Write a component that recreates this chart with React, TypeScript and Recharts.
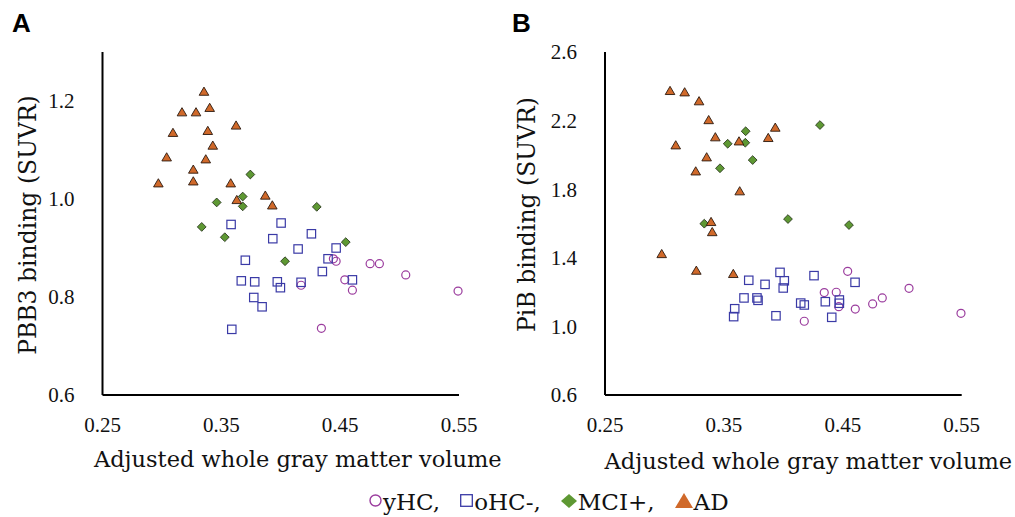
import { Label, Scatter, ScatterChart, XAxis, YAxis } from "recharts";

// ---- panel A: PBB3 binding vs adjusted GM volume ----
const yhcVolA = [0.4443, 0.4466, 0.4752, 0.483, 0.5052, 0.4539, 0.4171, 0.4603, 0.5492, 0.4342];
const yhcPbb3 = [0.878, 0.873, 0.868, 0.868, 0.845, 0.835, 0.824, 0.814, 0.812, 0.736];

const ohcVolA = [0.3582, 0.4003, 0.4258, 0.3933, 0.4146, 0.4466, 0.3702, 0.4398, 0.435, 0.3668, 0.3781, 0.3971, 0.3997, 0.4171, 0.4603, 0.3773, 0.3843, 0.3588];
const ohcPbb3 = [0.948, 0.951, 0.929, 0.919, 0.898, 0.9, 0.875, 0.878, 0.852, 0.833, 0.831, 0.831, 0.819, 0.83, 0.835, 0.799, 0.78, 0.734];

const mciVolA = [0.3744, 0.368, 0.3461, 0.368, 0.4303, 0.3335, 0.3529, 0.4547, 0.4036];
const mciPbb3 = [1.05, 1.005, 0.993, 0.985, 0.984, 0.943, 0.922, 0.912, 0.873];

const adVolA = [0.3354, 0.3169, 0.3287, 0.3402, 0.3624, 0.3093, 0.3386, 0.3428, 0.304, 0.3369, 0.3264, 0.297, 0.3264, 0.3579, 0.363, 0.387, 0.3929];
const adPbb3 = [1.219, 1.177, 1.177, 1.186, 1.15, 1.135, 1.139, 1.109, 1.085, 1.081, 1.06, 1.032, 1.036, 1.032, 0.998, 1.007, 0.987];

// ---- panel B: PiB binding vs adjusted GM volume ----
const yhcVolB = [0.4541, 0.4344, 0.4445, 0.5057, 0.4832, 0.4751, 0.4466, 0.4605, 0.4176, 0.5494];
const yhcPib = [1.321, 1.197, 1.199, 1.222, 1.166, 1.131, 1.115, 1.101, 1.03, 1.076];

const ohcVolB = [0.3972, 0.4258, 0.3709, 0.4008, 0.3846, 0.4603, 0.3999, 0.3669, 0.3778, 0.3787, 0.4146, 0.4176, 0.4353, 0.4471, 0.4471, 0.3591, 0.3582, 0.3938, 0.4407];
const ohcPib = [1.315, 1.296, 1.269, 1.266, 1.245, 1.257, 1.224, 1.166, 1.166, 1.152, 1.136, 1.125, 1.144, 1.154, 1.135, 1.103, 1.057, 1.062, 1.053];

const mciVolB = [0.4308, 0.3683, 0.3532, 0.368, 0.3742, 0.3467, 0.3335, 0.4039, 0.4552];
const mciPib = [2.174, 2.138, 2.065, 2.071, 1.97, 1.922, 1.599, 1.626, 1.591];

const adVolB = [0.3047, 0.317, 0.3291, 0.3372, 0.3932, 0.3428, 0.3095, 0.3627, 0.3873, 0.3355, 0.3263, 0.3633, 0.3392, 0.3402, 0.2977, 0.3268, 0.3579];
const adPib = [2.373, 2.365, 2.313, 2.203, 2.159, 2.103, 2.056, 2.079, 2.099, 1.986, 1.904, 1.788, 1.609, 1.55, 1.422, 1.325, 1.306];

const volTicks = [0.25, 0.35, 0.45, 0.55];
const pbb3Ticks = [0.6, 0.8, 1.0, 1.2];
const pibTicks = [0.6, 1.0, 1.4, 1.8, 2.2, 2.6];

const PURPLE = "#9b3d9e";
const BLUE = "#3a3aa6";
const GREEN = "#5e9833";
const ORANGE = "#d0692a";

const zip = (xs: number[], ys: number[]) => xs.map((x, i) => ({ x, y: ys[i] }));

const ring = (p: any) => <circle cx={p.cx} cy={p.cy} r={4} fill="none" stroke={PURPLE} strokeWidth={1.2} />;
const box = (p: any) => (
  <rect x={p.cx - 4.2} y={p.cy - 4.2} width={8.4} height={8.4} fill="none" stroke={BLUE} strokeWidth={1.2} />
);
const diamond = (p: any) => (
  <path
    d={`M${p.cx},${p.cy - 4.4}L${p.cx + 4.4},${p.cy}L${p.cx},${p.cy + 4.4}L${p.cx - 4.4},${p.cy}Z`}
    fill={GREEN}
    stroke="#1e2a14"
    strokeWidth={0.8}
  />
);
const tri = (p: any) => (
  <path
    d={`M${p.cx},${p.cy - 4.6}L${p.cx + 4.8},${p.cy + 3.6}L${p.cx - 4.8},${p.cy + 3.6}Z`}
    fill={ORANGE}
    stroke="#2a1a10"
    strokeWidth={0.9}
  />
);

const tickFont = { fill: "#111", fontSize: 21, fontFamily: "Liberation Serif" };
const titleFont = { fill: "#111", fontSize: 22.5, fontFamily: "DejaVu Serif" };
const axisStroke = { stroke: "#000", strokeWidth: 2 };

// axis titles are placed relative to the axis box the library hands the label
const xTitle = (shift: number, drop: number) => (props: any) => {
  const vb = props.viewBox;
  return (
    <text x={vb.x + vb.width / 2 + shift} y={vb.y + drop} textAnchor="middle" style={titleFont}>
      Adjusted whole gray matter volume
    </text>
  );
};
const yTitle = (text: string, base: number, shift: number) => (props: any) => {
  const vb = props.viewBox;
  const cy = vb.y + vb.height / 2 + shift;
  return (
    <text transform={`translate(${vb.x + base},${cy}) rotate(-90)`} textAnchor="middle" style={{ ...titleFont, fontSize: 23.5 }}>
      {text}
    </text>
  );
};

function Panel({
  width, right, yWidth, yDomain, yTicks, yLabel, series, xShift, xDrop, yBase, yShift,
}: {
  width: number;
  right: number;
  yWidth: number;
  yDomain: [number, number];
  yTicks: number[];
  yLabel: string;
  series: { name: string; data: { x: number; y: number }[]; shape: any }[];
  xShift: number;
  xDrop: number;
  yBase: number;
  yShift: number;
}) {
  return (
    <ScatterChart width={width} height={480} margin={{ top: 52, right, bottom: 0, left: 0 }} style={{ overflow: "visible" }}>
      <XAxis
        type="number"
        dataKey="x"
        domain={[0.25, 0.55]}
        ticks={volTicks}
        interval={0}
        height={85}
        tickSize={0}
        tickMargin={22}
        tickLine={false}
        axisLine={axisStroke}
        tick={tickFont}
        tickFormatter={(v: number) => v.toFixed(2)}
      >
        <Label content={xTitle(xShift, xDrop)} />
      </XAxis>
      <YAxis
        type="number"
        dataKey="y"
        domain={yDomain}
        ticks={yTicks}
        interval={0}
        width={yWidth}
        tickSize={0}
        tickMargin={28}
        tickLine={false}
        axisLine={axisStroke}
        tick={tickFont}
        tickFormatter={(v: number) => v.toFixed(1)}
      >
        <Label content={yTitle(yLabel, yBase, yShift)} />
      </YAxis>
      {series.map((s) => (
        <Scatter key={s.name} name={s.name} data={s.data} shape={s.shape} isAnimationActive={false} />
      ))}
    </ScatterChart>
  );
}

const legendItems = [
  { label: "yHC,", icon: <circle cx={6.5} cy={6.5} r={5.5} fill="none" stroke={PURPLE} strokeWidth={1.4} />, w: 13, h: 13 },
  { label: "oHC-,", icon: <rect x={0.7} y={0.7} width={11.6} height={11.6} fill="none" stroke={BLUE} strokeWidth={1.3} />, w: 13, h: 13 },
  { label: "MCI+,", icon: <path d="M8,0L16,7L8,14L0,7Z" fill={GREEN} />, w: 16, h: 14 },
  { label: "AD", icon: <path d="M9,0L18,15L0,15Z" fill={ORANGE} />, w: 18, h: 15 },
];

export default function App() {
  const panelA = [
    { name: "yHC", data: zip(yhcVolA, yhcPbb3), shape: ring },
    { name: "oHC-", data: zip(ohcVolA, ohcPbb3), shape: box },
    { name: "MCI+", data: zip(mciVolA, mciPbb3), shape: diamond },
    { name: "AD", data: zip(adVolA, adPbb3), shape: tri },
  ];
  const panelB = [
    { name: "yHC", data: zip(yhcVolB, yhcPib), shape: ring },
    { name: "oHC-", data: zip(ohcVolB, ohcPib), shape: box },
    { name: "MCI+", data: zip(mciVolB, mciPib), shape: diamond },
    { name: "AD", data: zip(adVolB, adPib), shape: tri },
  ];
  const letter = { position: "absolute" as const, top: 10, fontFamily: "Liberation Sans", fontWeight: 700, fontSize: 26, lineHeight: "26px", color: "#000" };

  return (
    <div style={{ position: "absolute", left: 0, top: 0, width: 1015, height: 517, background: "#fff", overflow: "hidden" }}>
      <div style={{ position: "absolute", left: 0, top: 0 }}>
        <Panel width={520} right={61} yWidth={102.5} yDomain={[0.6, 1.3]} yTicks={pbb3Ticks}
          yLabel="PBB3 binding (SUVR)" series={panelA} xShift={17} xDrop={72} yBase={36} yShift={1.5} />
      </div>
      <div style={{ position: "absolute", left: 500, top: 0 }}>
        <Panel width={515} right={53.3} yWidth={105} yDomain={[0.6, 2.6]} yTicks={pibTicks}
          yLabel="PiB binding (SUVR)" series={panelB} xShift={25} xDrop={74} yBase={35} yShift={-9} />
      </div>
      <div style={{ ...letter, left: 12 }}>A</div>
      <div style={{ ...letter, left: 512 }}>B</div>
      <div style={{ position: "absolute", left: 369, top: 491, display: "flex", alignItems: "center", fontFamily: "DejaVu Serif", fontSize: 23, lineHeight: "23px", color: "#111", whiteSpace: "nowrap" }}>
        {legendItems.map((it, i) => (
          <span key={it.label} style={{ display: "inline-flex", alignItems: "center", marginRight: i < legendItems.length - 1 ? 20 : 0 }}>
            <svg width={it.w} height={it.h} style={{ position: "relative", top: -2, marginRight: 1 }}>
              {it.icon}
            </svg>
            <span>{it.label}</span>
          </span>
        ))}
      </div>
    </div>
  );
}
